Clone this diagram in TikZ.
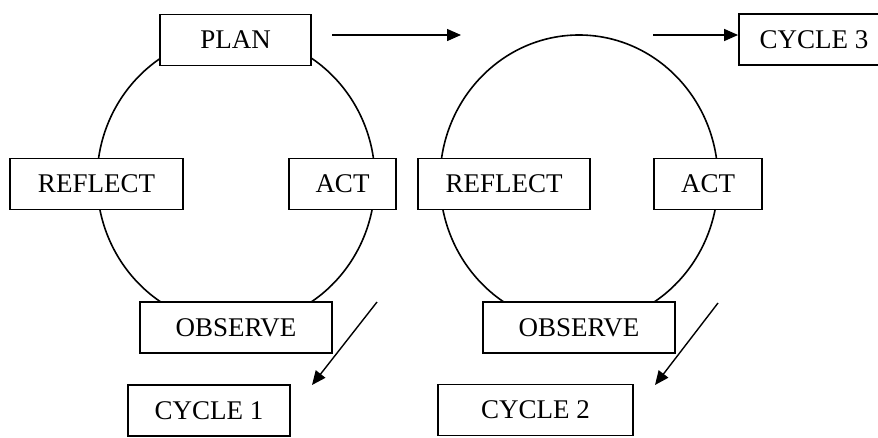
\documentclass[tikz,border=0pt]{standalone}
\usepackage{fontspec}
\setmainfont{Liberation Serif}
\usetikzlibrary{arrows.meta}

\begin{document}
\begin{tikzpicture}[x=1pt,y=-1pt,
    etapa/.style={draw,fill=white,line width=1.8pt,inner sep=0pt,
      minimum height=51pt,font=\fontsize{27}{30}\selectfont},
    ciclo/.style={line width=1.6pt},
    flecha/.style={line width=1.4pt,-{Triangle[length=14pt,width=12pt]}}]
    \useasboundingbox (0,0) rectangle (878,437);
    \clip (0,0) rectangle (878,437);

    % los dos ciclos
    \foreach \cx in {236,579} {
      \draw[ciclo] (\cx,180) ellipse [x radius=139, y radius=145];
    }

    % ciclo 1
    \node[etapa,minimum width=151pt] (plan) at (235.5,40) {PLAN};
    \node[etapa,minimum width=173pt] (reflect1) at (96.5,184) {REFLECT};
    \node[etapa,minimum width=107pt] (act1) at (342.5,184) {ACT};
    \node[etapa,minimum width=192pt] (observe1) at (236,327.5) {OBSERVE};
    \node[etapa,minimum width=162pt] (cycle1) at (209,410.5) {CYCLE 1};

    % ciclo 2
    \node[etapa,minimum width=172pt] (reflect2) at (504,184) {REFLECT};
    \node[etapa,minimum width=108pt] (act2) at (708,184) {ACT};
    \node[etapa,minimum width=192pt] (observe2) at (579,327.5) {OBSERVE};
    \node[etapa,minimum width=195pt] (cycle2) at (535.5,410) {CYCLE 2};
    \node[etapa,minimum width=150pt] (cycle3) at (814,39.5) {CYCLE 3};

    % flechas
    \coordinate (a1) at (332,35);
    \coordinate (a2) at (461,35);
    \coordinate (b1) at (653,35);
    \coordinate (b2) at (cycle3.west |- a1);
    \coordinate (c1) at (377,302);
    \coordinate (c2) at (312,385);
    \coordinate (d1) at (718,303);
    \coordinate (d2) at (655,385);
    \draw[flecha] (a1) -- (a2);
    \draw[flecha] (b1) -- (b2);
    \draw[flecha] (c1) -- (c2);
    \draw[flecha] (d1) -- (d2);
\end{tikzpicture}
\end{document}
